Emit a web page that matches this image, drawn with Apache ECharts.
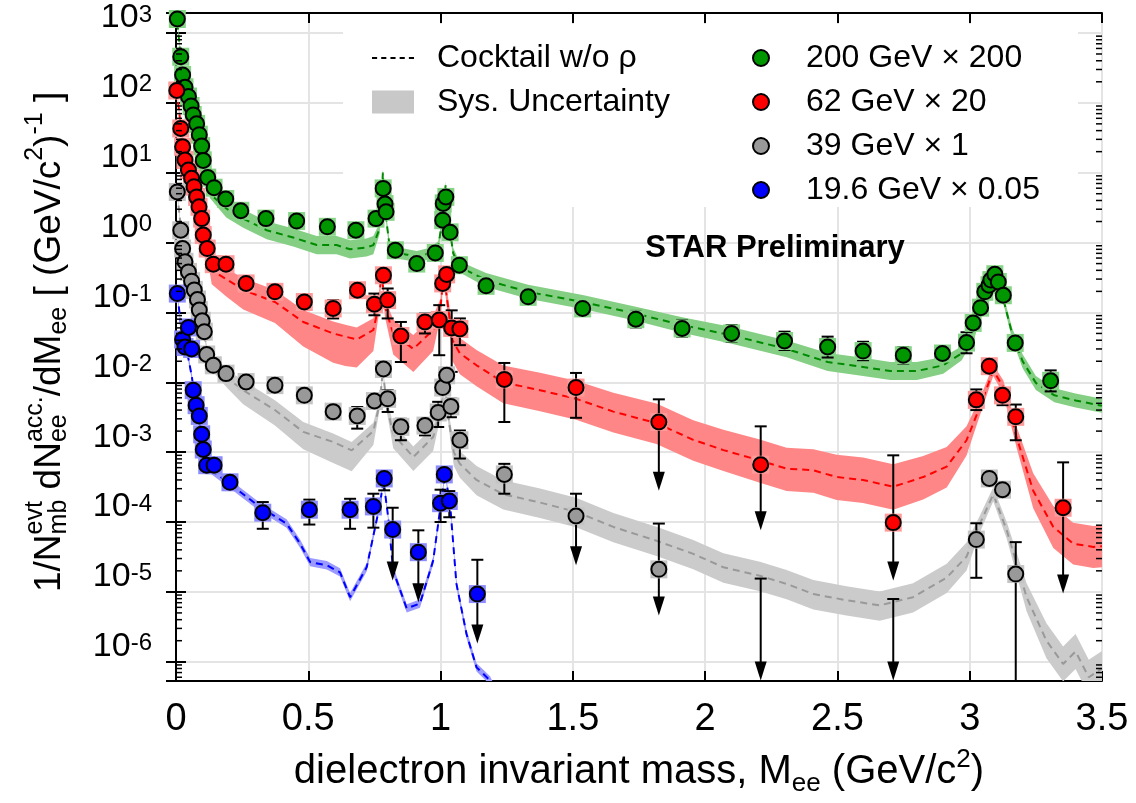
<!DOCTYPE html>
<html>
<head>
<meta charset="utf-8">
<title>Dielectron mass spectra</title>
<script src="https://cdn.jsdelivr.net/npm/echarts@6/dist/echarts.min.js"></script>
<style>
  html, body { margin: 0; padding: 0; background: #fff; }
  #main { width: 1136px; height: 803px; }
</style>
</head>
<body>
<div id="main"></div>
<script>
const FONT = '"Liberation Sans", Arial, Helvetica, sans-serif';

// axis range
const yMin = 5.3e-7, yMax = 1930;
const yDecades = [-6, -5, -4, -3, -2, -1, 0, 1, 2, 3];

const seriesNames = ['200 GeV × 200', '62 GeV × 20', '39 GeV × 1', '19.6 GeV × 0.05'];

// ---------- 200 GeV x 200 ----------
const mass200 = [0.005, 0.018, 0.025, 0.034, 0.047, 0.057, 0.065, 0.078, 0.088, 0.097, 0.103, 0.12, 0.144, 0.188, 0.245, 0.34, 0.456, 0.572, 0.68, 0.756, 0.783, 0.79, 0.794, 0.829, 0.91, 0.98, 1.008, 1.01, 1.02, 1.036, 1.071, 1.172, 1.331, 1.537, 1.738, 1.913, 2.10, 2.30, 2.463, 2.597, 2.749, 2.897, 2.988, 3.013, 3.041, 3.057, 3.073, 3.08, 3.095, 3.108, 3.127, 3.172, 3.306];
const val200 = [1585, 457, 250, 167, 123, 90, 67, 50, 35, 24, 15, 8.5, 6.1, 4.2, 2.85, 2.2, 2.03, 1.68, 1.5, 2.2, 5.96, 3.55, 2.75, 0.776, 0.50, 0.71, 2.09, 3.63, 4.5, 1.4, 0.474, 0.24, 0.167, 0.114, 0.080, 0.059, 0.050, 0.039, 0.032, 0.028, 0.0244, 0.0258, 0.037, 0.0708, 0.117, 0.197, 0.245, 0.29, 0.352, 0.273, 0.176, 0.0366, 0.0105];
const barMass200 = [1.172, 1.331, 1.537, 1.738, 1.913, 2.10, 2.30, 2.463, 2.597, 2.749, 2.897, 2.988, 3.306];
const barLo200 = [0.19, 0.133, 0.091, 0.061, 0.045, 0.038, 0.029, 0.0226, 0.0207, 0.0185, 0.0205, 0.026, 0.0074];
const barHi200 = [0.30, 0.21, 0.143, 0.105, 0.078, 0.066, 0.053, 0.045, 0.038, 0.032, 0.0325, 0.052, 0.0148];
const cockMass200 = [0.005, 0.02, 0.04, 0.06, 0.08, 0.1, 0.128, 0.19, 0.254, 0.343, 0.443, 0.532, 0.607, 0.658, 0.72, 0.746, 0.77, 0.782, 0.79, 0.809, 0.847, 0.91, 0.96, 0.991, 1.01, 1.019, 1.03, 1.048, 1.071, 1.172, 1.331, 1.537, 1.738, 1.913, 2.10, 2.308, 2.463, 2.597, 2.70, 2.80, 2.90, 2.97, 3.02, 3.06, 3.09, 3.10, 3.13, 3.16, 3.20, 3.25, 3.32, 3.40, 3.5];
const cock200 = [1400, 380, 140, 70, 40, 18, 5.0, 3.07, 2.2, 1.5, 1.18, 0.92, 0.92, 0.8, 0.85, 0.92, 1.6, 10, 3.0, 0.78, 0.70, 0.63, 0.70, 0.87, 2.5, 6.6, 2.0, 0.70, 0.45, 0.29, 0.197, 0.141, 0.096, 0.066, 0.047, 0.030, 0.0195, 0.0166, 0.0145, 0.0145, 0.0175, 0.026, 0.055, 0.17, 0.32, 0.33, 0.14, 0.05, 0.02, 0.0098, 0.0065, 0.0055, 0.0046];
// band half widths in decades
const bandUp200 = [0.04, 0.04, 0.04, 0.04, 0.04, 0.04, 0.06, 0.13, 0.13, 0.13, 0.13, 0.13, 0.13, 0.13, 0.13, 0.13, 0.08, 0.05, 0.06, 0.08, 0.08, 0.08, 0.08, 0.08, 0.06, 0.05, 0.06, 0.08, 0.08, 0.1, 0.1, 0.1, 0.1, 0.11, 0.12, 0.12, 0.13, 0.13, 0.13, 0.13, 0.12, 0.1, 0.08, 0.06, 0.05, 0.05, 0.06, 0.08, 0.1, 0.1, 0.1, 0.1, 0.1];
const bandDn200 = bandUp200;

// ---------- 62 GeV x 20 ----------
const mass62 = [0.003, 0.018, 0.025, 0.034, 0.047, 0.059, 0.068, 0.078, 0.087, 0.097, 0.103, 0.118, 0.141, 0.189, 0.265, 0.374, 0.485, 0.594, 0.686, 0.75, 0.784, 0.80, 0.85, 0.941, 0.995, 1.008, 1.023, 1.042, 1.073, 1.241, 1.512, 3.025, 3.074, 3.124, 3.174];
const val62 = [150, 43, 23.5, 15.2, 10.9, 8.3, 6.3, 4.5, 3.25, 2.2, 1.28, 0.82, 0.49, 0.49, 0.26, 0.197, 0.141, 0.114, 0.208, 0.131, 0.34, 0.15, 0.046, 0.073, 0.078, 0.26, 0.35, 0.06, 0.058, 0.011, 0.0084, 0.0056, 0.017, 0.0065, 0.0032];
const barMass62 = [0.485, 0.594, 0.75, 0.80, 0.85, 0.941, 0.995, 1.042, 1.073, 1.241, 1.512, 3.025, 3.124, 3.174];
const barLo62 = [0.114, 0.082, 0.091, 0.082, 0.0195, 0.050, 0.0244, 0.0141, 0.034, 0.0027, 0.0031, 0.0040, 0.0047, 0.00148];
const barHi62 = [0.167, 0.150, 0.186, 0.22, 0.073, 0.096, 0.127, 0.107, 0.082, 0.0189, 0.0136, 0.0079, 0.0079, 0.0048];
const limMass62 = [1.825, 2.21, 2.711, 3.353];
const limVal62 = [0.0027, 0.00066, 9.8e-5, 1.6e-4];
const limTop62 = [0.0057, 0.00234, 0.0009, 0.000714];
const limTip62 = [2.8e-4, 7.6e-5, 1.46e-5, 9.5e-6];
const cockMass62 = [0.003, 0.02, 0.04, 0.06, 0.08, 0.1, 0.12, 0.135, 0.19, 0.254, 0.374, 0.481, 0.594, 0.64, 0.683, 0.746, 0.765, 0.777, 0.79, 0.821, 0.897, 0.972, 1.0, 1.012, 1.025, 1.045, 1.073, 1.136, 1.237, 1.376, 1.512, 1.653, 1.816, 1.955, 2.069, 2.207, 2.308, 2.409, 2.497, 2.597, 2.711, 2.824, 2.913, 2.988, 3.039, 3.089, 3.127, 3.177, 3.24, 3.316, 3.391, 3.467, 3.5];
const cock62 = [150, 40, 13, 8, 4.2, 1.6, 0.7, 0.40, 0.30, 0.21, 0.141, 0.073, 0.050, 0.045, 0.041, 0.056, 0.12, 0.38, 0.12, 0.05, 0.030, 0.056, 0.12, 0.36, 0.15, 0.04, 0.026, 0.0175, 0.010, 0.0077, 0.0058, 0.0038, 0.0026, 0.0015, 0.00107, 0.00076, 0.00058, 0.00055, 0.00044, 0.00040, 0.00032, 0.00044, 0.00062, 0.00148, 0.0045, 0.0148, 0.0085, 0.00165, 0.00028, 8.5e-5, 4.9e-5, 4.4e-5, 4.5e-5];
const bandUp62 = [0.05, 0.05, 0.05, 0.05, 0.05, 0.05, 0.08, 0.12, 0.15, 0.17, 0.17, 0.17, 0.17, 0.17, 0.17, 0.17, 0.12, 0.08, 0.12, 0.2, 0.2, 0.2, 0.12, 0.08, 0.12, 0.2, 0.22, 0.22, 0.24, 0.25, 0.26, 0.27, 0.28, 0.28, 0.29, 0.3, 0.3, 0.3, 0.32, 0.32, 0.32, 0.3, 0.28, 0.2, 0.12, 0.08, 0.1, 0.15, 0.25, 0.3, 0.3, 0.3, 0.3];
const bandDn62 = [0.05, 0.05, 0.05, 0.05, 0.05, 0.05, 0.1, 0.2, 0.25, 0.28, 0.3, 0.35, 0.42, 0.42, 0.4, 0.3, 0.15, 0.08, 0.15, 0.3, 0.33, 0.3, 0.15, 0.08, 0.15, 0.3, 0.3, 0.3, 0.3, 0.3, 0.3, 0.3, 0.3, 0.3, 0.3, 0.32, 0.32, 0.32, 0.33, 0.33, 0.33, 0.32, 0.3, 0.22, 0.12, 0.08, 0.1, 0.15, 0.25, 0.3, 0.3, 0.3, 0.3];

// ---------- 39 GeV x 1 ----------
const mass39 = [0.005, 0.018, 0.025, 0.034, 0.047, 0.059, 0.069, 0.081, 0.088, 0.099, 0.107, 0.116, 0.141, 0.189, 0.265, 0.374, 0.485, 0.594, 0.685, 0.75, 0.784, 0.80, 0.85, 0.941, 0.991, 1.008, 1.023, 1.039, 1.073, 1.241, 3.025, 3.074, 3.124, 3.174];
const val39 = [5.3, 1.5, 0.82, 0.53, 0.38, 0.28, 0.21, 0.153, 0.108, 0.076, 0.053, 0.025, 0.0175, 0.0133, 0.0101, 0.0091, 0.0065, 0.0038, 0.0033, 0.0054, 0.0155, 0.0058, 0.0023, 0.0024, 0.0037, 0.0084, 0.0126, 0.0045, 0.00148, 0.00048, 5.6e-5, 4.2e-4, 2.9e-4, 1.8e-5];
const barMass39 = [0.594, 0.685, 0.80, 0.85, 0.941, 0.991, 1.039, 1.073, 1.241, 3.025, 3.174];
const barLo39 = [0.0030, 0.00217, 0.00376, 0.00148, 0.00174, 0.00229, 0.00316, 0.00081, 0.000254, 1.59e-5, 1e-9];
const barHi39 = [0.00468, 0.00443, 0.00767, 0.0030, 0.00286, 0.00525, 0.00583, 0.00204, 0.00068, 9.6e-5, 5.15e-5];
const limMass39 = [1.512, 1.825, 2.21, 2.711];
const limVal39 = [1.22e-4, 2.1e-5, null, null];
const limTop39 = [2.54e-4, 9.5e-5, 1.55e-5, 7.9e-6];
const limTip39 = [2.4e-5, 4.6e-6, 5.4e-7, 5.4e-7];
const cockMass39 = [0.005, 0.02, 0.04, 0.06, 0.08, 0.1, 0.12, 0.15, 0.2, 0.254, 0.374, 0.481, 0.594, 0.664, 0.746, 0.77, 0.782, 0.795, 0.821, 0.897, 0.972, 1.0, 1.017, 1.03, 1.05, 1.073, 1.136, 1.237, 1.376, 1.512, 1.653, 1.816, 1.955, 2.069, 2.207, 2.308, 2.409, 2.534, 2.66, 2.786, 2.913, 2.988, 3.039, 3.089, 3.14, 3.215, 3.29, 3.353, 3.4, 3.45, 3.5];
const cock39 = [5, 1.4, 0.45, 0.27, 0.15, 0.07, 0.025, 0.016, 0.011, 0.0077, 0.004, 0.00195, 0.0014, 0.00106, 0.002, 0.005, 0.015, 0.005, 0.0018, 0.00085, 0.00165, 0.004, 0.009, 0.003, 0.001, 0.00068, 0.0004, 2.5e-4, 1.9e-4, 1.4e-4, 8.5e-5, 5.4e-5, 3.5e-5, 2.25e-5, 1.7e-5, 1.3e-5, 9.3e-6, 7.6e-6, 6.4e-6, 8.4e-6, 1.6e-5, 3.2e-5, 9.5e-5, 2.5e-4, 7.6e-5, 8.4e-6, 2e-6, 9.3e-7, 1.4e-6, 6e-7, 8e-7];
const bandUp39 = [0.05, 0.05, 0.05, 0.05, 0.05, 0.05, 0.06, 0.1, 0.12, 0.14, 0.14, 0.14, 0.12, 0.12, 0.12, 0.08, 0.06, 0.08, 0.15, 0.15, 0.15, 0.1, 0.06, 0.1, 0.15, 0.18, 0.2, 0.2, 0.2, 0.2, 0.2, 0.2, 0.2, 0.2, 0.2, 0.2, 0.2, 0.2, 0.2, 0.2, 0.2, 0.2, 0.12, 0.1, 0.12, 0.2, 0.25, 0.25, 0.25, 0.25, 0.25];
const bandDn39 = [0.05, 0.05, 0.05, 0.05, 0.05, 0.05, 0.06, 0.1, 0.15, 0.2, 0.22, 0.25, 0.3, 0.3, 0.2, 0.08, 0.06, 0.08, 0.2, 0.2, 0.2, 0.1, 0.06, 0.1, 0.2, 0.2, 0.22, 0.22, 0.22, 0.22, 0.22, 0.22, 0.22, 0.22, 0.22, 0.22, 0.22, 0.22, 0.22, 0.22, 0.22, 0.2, 0.12, 0.1, 0.12, 0.2, 0.25, 0.25, 0.25, 0.25, 0.25];

// ---------- 19.6 GeV x 0.05 ----------
const mass19 = [0.005, 0.025, 0.034, 0.047, 0.059, 0.065, 0.076, 0.088, 0.097, 0.103, 0.116, 0.144, 0.204, 0.328, 0.504, 0.658, 0.746, 0.787, 1.00, 1.014, 1.033];
const val19 = [0.186, 0.041, 0.032, 0.061, 0.030, 0.0077, 0.0047, 0.0033, 0.0018, 0.00109, 0.00065, 0.00065, 0.00037, 1.36e-4, 1.5e-4, 1.5e-4, 1.67e-4, 4.2e-4, 1.86e-4, 4.8e-4, 2.0e-4];
const barMass19 = [0.328, 0.504, 0.658, 0.746, 0.787, 1.00, 1.033];
const barLo19 = [8.0e-5, 9.2e-5, 8.0e-5, 8.3e-5, 2.84e-4, 1.0e-4, 1.17e-4];
const barHi19 = [1.93e-4, 2.09e-4, 2.15e-4, 2.54e-4, 5.37e-4, 2.9e-4, 2.77e-4];
const limMass19 = [0.819, 0.916, 1.139];
const limVal19 = [7.8e-5, 3.7e-5, 9.3e-6];
const limTop19 = [1.6e-4, 7.6e-5, 2.88e-5];
const limTip19 = [1.46e-5, 7.1e-6, 1.82e-6];
const cockMass19 = [0.005, 0.02, 0.04, 0.06, 0.07, 0.08, 0.09, 0.1, 0.116, 0.204, 0.317, 0.418, 0.469, 0.507, 0.57, 0.62, 0.658, 0.721, 0.771, 0.784, 0.802, 0.821, 0.872, 0.922, 0.972, 0.998, 1.017, 1.036, 1.06, 1.098, 1.136, 1.187, 1.22];
const cock19 = [0.18, 0.06, 0.03, 0.012, 0.006, 0.004, 0.0025, 0.0012, 6.2e-4, 3.5e-4, 1.64e-4, 9.5e-5, 4.9e-5, 2.67e-5, 2.4e-5, 1.9e-5, 8.4e-6, 2.26e-5, 1.8e-4, 4e-4, 1.17e-4, 2.0e-5, 5.8e-6, 6.8e-6, 2.8e-5, 1.48e-4, 4.9e-4, 1.8e-4, 1.3e-5, 2.5e-6, 8.3e-7, 5.4e-7, 3e-7];
const bandUp19 = [0.05, 0.05, 0.05, 0.05, 0.05, 0.05, 0.05, 0.05, 0.06, 0.06, 0.06, 0.06, 0.06, 0.06, 0.06, 0.06, 0.06, 0.06, 0.05, 0.04, 0.05, 0.06, 0.06, 0.06, 0.06, 0.05, 0.04, 0.05, 0.06, 0.06, 0.06, 0.06, 0.06];
const bandDn19 = bandUp19;

const sets = [
  { name: seriesNames[0], color: '#009600', halo: '#86d486', line: '#008a00', band: '#84cf84',
    mass: mass200, val: val200, bm: barMass200, bl: barLo200, bh: barHi200, lm: [], lv: [], lt: [], lp: [],
    cm: cockMass200, cv: cock200, cu: bandUp200, cd: bandDn200 },
  { name: seriesNames[1], color: '#ff0000', halo: '#ff9a9a', line: '#ff0000', band: '#ff8686',
    mass: mass62, val: val62, bm: barMass62, bl: barLo62, bh: barHi62, lm: limMass62, lv: limVal62, lt: limTop62, lp: limTip62,
    cm: cockMass62, cv: cock62, cu: bandUp62, cd: bandDn62 },
  { name: seriesNames[2], color: '#999999', halo: '#c4c4c4', line: '#999999', band: '#cbcbcb',
    mass: mass39, val: val39, bm: barMass39, bl: barLo39, bh: barHi39, lm: limMass39, lv: limVal39, lt: limTop39, lp: limTip39,
    cm: cockMass39, cv: cock39, cu: bandUp39, cd: bandDn39 },
  { name: seriesNames[3], color: '#0000ff', halo: '#8c8cff', line: '#0000ff', band: '#9a9aff',
    mass: mass19, val: val19, bm: barMass19, bl: barLo19, bh: barHi19, lm: limMass19, lv: limVal19, lt: limTop19, lp: limTip19,
    cm: cockMass19, cv: cock19, cu: bandUp19, cd: bandDn19 }
];

function clipOf(params) {
  const cs = params.coordSys;
  return { type: 'rect', shape: { x: cs.x, y: cs.y, width: cs.width, height: cs.height } };
}

const series = [];

sets.forEach(function (s) {
  // systematic band of the cocktail
  const bandRows = s.cm.map((m, i) => [m, s.cv[i] / Math.pow(10, s.cd[i]), s.cv[i] * Math.pow(10, s.cu[i])]);
  series.push({
    type: 'custom', z: 2, silent: true, clip: true,
    data: bandRows, encode: { x: 0, y: [1, 2] },
    renderItem: function (params, api) {
      if (params.dataIndex !== 0) return null;
      const up = bandRows.map(r => api.coord([r[0], r[2]]));
      const dn = bandRows.map(r => api.coord([r[0], r[1]])).reverse();
      return { type: 'polygon', shape: { points: up.concat(dn) }, style: { fill: s.band }, clipPath: clipOf(params) };
    }
  });
  // cocktail w/o rho
  series.push({
    type: 'line', z: 3, silent: true, symbol: 'none',
    data: s.cm.map((m, i) => [m, s.cv[i]]),
    lineStyle: { color: s.line, width: 2, type: [7, 5] }
  });
});

sets.forEach(function (s) {
  // statistical error bars
  series.push({
    type: 'custom', z: 4, silent: true, clip: true,
    data: s.bm.map((m, i) => [m, s.bl[i], s.bh[i]]), encode: { x: 0, y: [1, 2] },
    renderItem: function (params, api) {
      const lo = api.coord([api.value(0), api.value(1)]);
      const hi = api.coord([api.value(0), api.value(2)]);
      const st = { stroke: '#000', lineWidth: 2 };
      return { type: 'group', clipPath: clipOf(params), children: [
        { type: 'line', shape: { x1: lo[0], y1: lo[1], x2: hi[0], y2: hi[1] }, style: st },
        { type: 'line', shape: { x1: hi[0] - 6, y1: hi[1], x2: hi[0] + 6, y2: hi[1] }, style: st },
        { type: 'line', shape: { x1: lo[0] - 6, y1: lo[1], x2: lo[0] + 6, y2: lo[1] }, style: st }
      ] };
    }
  });
  // upper limits
  if (s.lm.length) {
    series.push({
      type: 'custom', z: 4, silent: true, clip: true,
      data: s.lm.map((m, i) => [m, s.lt[i], s.lp[i]]), encode: { x: 0, y: [1, 2] },
      renderItem: function (params, api) {
        const top = api.coord([api.value(0), api.value(1)]);
        const tip = api.coord([api.value(0), api.value(2)]);
        const st = { stroke: '#000', lineWidth: 2 };
        return { type: 'group', clipPath: clipOf(params), children: [
          { type: 'line', shape: { x1: top[0], y1: top[1], x2: tip[0], y2: tip[1] - 6 }, style: st },
          { type: 'line', shape: { x1: top[0] - 6, y1: top[1], x2: top[0] + 6, y2: top[1] }, style: st },
          { type: 'polygon', shape: { points: [[tip[0] - 6, tip[1] - 19], [tip[0] + 6, tip[1] - 19], [tip[0], tip[1]]] }, style: { fill: '#000' } }
        ] };
      }
    });
  }
  const pts = s.mass.map((m, i) => [m, s.val[i]]);
  s.lm.forEach((m, i) => { if (s.lv[i] != null) pts.push([m, s.lv[i]]); });
  // systematic boxes of the data
  series.push({
    type: 'scatter', z: 5, silent: true, clip: false, symbol: 'rect', symbolSize: [17, 18],
    data: pts, itemStyle: { color: s.halo, opacity: 1 }
  });
  series.push({
    type: 'scatter', name: s.name, z: 6, silent: true, clip: false, symbol: 'circle', symbolSize: 15,
    data: pts, itemStyle: { color: s.color, borderColor: '#000', borderWidth: 2, opacity: 1 }
  });
});

// legend-only entries
series.push({ type: 'line', name: 'Cocktail w/o ρ', data: [], symbol: 'none', itemStyle: { color: '#000' }, lineStyle: { color: '#000', width: 2, type: [7, 5] } });
series.push({ type: 'custom', name: 'Sys. Uncertainty', data: [], renderItem: () => null, itemStyle: { color: '#c8c8c8' } });

// minor ticks of the log axis (2..9 x 10^n), both sides
const minorTicks = [];
for (let e = -7; e <= 3; e++) {
  for (let d = 2; d <= 9; d++) {
    const v = d * Math.pow(10, e);
    if (v > yMin && v < yMax) minorTicks.push(v);
  }
}
series.push({
  type: 'custom', z: 7, silent: true,
  data: minorTicks.map(v => [0, v]), encode: { x: 0, y: 1 },
  renderItem: function (params, api) {
    const cs = params.coordSys;
    const y = api.coord([0, api.value(1)])[1];
    const st = { stroke: '#000', lineWidth: 1.5 };
    return { type: 'group', children: [
      { type: 'line', shape: { x1: cs.x, y1: y, x2: cs.x + 6, y2: y }, style: st },
      { type: 'line', shape: { x1: cs.x + cs.width - 6, y1: y, x2: cs.x + cs.width, y2: y }, style: st }
    ] };
  }
});

// rotated y title with stacked sub/superscripts
const mctx = document.createElement('canvas').getContext('2d');
function textW(t, size) { mctx.font = size + 'px ' + FONT; return mctx.measureText(t).width; }
const yTitleParts = [
  ['1/N', 'm'], ['evt', 'sup', 1], ['mb', 'sub'], [' dN', 'm'], ['acc.', 'sup', 1], ['ee', 'sub'],
  ['/dM', 'm'], ['ee', 'sub'], [' [ (GeV/c', 'm'], ['2', 'sup'], [')', 'm'], ['-1', 'sup'], [' ]', 'm']
];
const partSize = { m: 37, sup: 25, sub: 25 };
const partDy = { m: 0, sup: -15, sub: 9 };
const yTitleChildren = [];
let cx = 0, stackW = 0;
yTitleParts.forEach(function (p) {
  const size = partSize[p[1]];
  const w = textW(p[0], size);
  yTitleChildren.push({ type: 'text', x: cx, y: partDy[p[1]], style: { text: p[0], fontSize: size, fontFamily: FONT, fill: '#000', align: 'left', verticalAlign: 'middle' } });
  if (p[2]) { stackW = w; } else { cx += Math.max(w, stackW); stackW = 0; }
});

// dashed sample for the legend
const dashIcon = 'path://M0 0h5v2H0z M9 0h5v2H9z M18 0h5v2h-5z M27 0h5v2h-5z M36 0h5v2h-5z';

const option = {
  animation: false,
  backgroundColor: '#fff',
  grid: { left: 176, right: 34, top: 13, bottom: 122 },
  legend: [
    {
      left: 367, top: 37, orient: 'vertical', itemGap: 12, itemWidth: 42, itemHeight: 23,
      selectedMode: false,
      data: [{ name: 'Cocktail w/o ρ', icon: dashIcon }, { name: 'Sys. Uncertainty', icon: 'rect' }],
      textStyle: { fontSize: 32, lineHeight: 30, fontFamily: FONT, color: '#000', padding: [0, 0, 0, 18] }
    },
    {
      left: 747, top: 37, orient: 'vertical', itemGap: 12, itemWidth: 16, itemHeight: 16,
      selectedMode: false, icon: 'circle',
      data: seriesNames,
      itemStyle: { borderColor: '#000', borderWidth: 2 },
      textStyle: { fontSize: 32, lineHeight: 30, fontFamily: FONT, color: '#000', padding: [0, 0, 0, 32] }
    }
  ],
  xAxis: [
    {
      type: 'value', min: 0, max: 3.5, interval: 0.5, position: 'bottom',
      axisLine: { lineStyle: { color: '#000', width: 2 } },
      axisTick: { inside: true, length: 10, lineStyle: { color: '#000', width: 2 } },
      axisLabel: { fontSize: 38, color: '#000', fontFamily: FONT, margin: 20 },
      splitLine: { show: true, lineStyle: { color: '#e4e4e4', width: 2 } },
      name: 'dielectron invariant mass, M{sub|ee} (GeV/c{sup|2})',
      nameLocation: 'middle', nameGap: 66,
      nameTextStyle: {
        fontSize: 40, fontFamily: FONT, color: '#000', lineHeight: 50,
        rich: {
          sub: { fontSize: 26, fontFamily: FONT, color: '#000', verticalAlign: 'bottom', lineHeight: 26 },
          sup: { fontSize: 26, fontFamily: FONT, color: '#000', verticalAlign: 'top', lineHeight: 26 }
        }
      }
    },
    {
      type: 'value', min: 0, max: 3.5, interval: 0.5, position: 'top',
      axisLine: { lineStyle: { color: '#000', width: 2 } },
      axisTick: { inside: true, length: 10, lineStyle: { color: '#000', width: 2 } },
      axisLabel: { show: false }, splitLine: { show: false }
    }
  ],
  yAxis: [
    {
      type: 'log', logBase: 10, min: yMin, max: yMax, splitNumber: 10, position: 'left',
      axisLine: { lineStyle: { color: '#000', width: 2 } },
      axisTick: { inside: true, length: 10, lineStyle: { color: '#000', width: 2 } },
      splitLine: { show: true, lineStyle: { color: '#e4e4e4', width: 2 } },
      axisLabel: {
        margin: 24, color: '#000', verticalAlign: 'bottom',
        formatter: function (v) {
          const e = Math.round(Math.log10(v));
          if (Math.abs(Math.log10(v) - e) > 1e-6 || yDecades.indexOf(e) < 0) return '';
          return '{b|10}{s|' + e + '}';
        },
        rich: {
          b: { fontSize: 34, lineHeight: 30, fontFamily: FONT, color: '#000' },
          s: { fontSize: 24, lineHeight: 8, fontFamily: FONT, color: '#000', verticalAlign: 'top' }
        }
      }
    },
    {
      type: 'log', logBase: 10, min: yMin, max: yMax, splitNumber: 10, position: 'right',
      axisLine: { lineStyle: { color: '#000', width: 2 } },
      axisTick: { inside: true, length: 10, lineStyle: { color: '#000', width: 2 } },
      axisLabel: { show: false }, splitLine: { show: false }
    }
  ],
  graphic: [
    { type: 'rect', z: 1, silent: true, shape: { x: 343, y: 24, width: 735, height: 183 }, style: { fill: '#fff' } },
    { type: 'text', z: 10, silent: true, x: 775, y: 248,
      style: { text: 'STAR Preliminary', fontSize: 31, fontWeight: 'bold', fontFamily: FONT, fill: '#000', align: 'center', verticalAlign: 'middle' } },
    { type: 'group', x: 50, y: 592, rotation: Math.PI / 2, silent: true, children: yTitleChildren }
  ],
  series: series
};

const chart = echarts.init(document.getElementById('main'), null, { renderer: 'canvas' });
chart.setOption(option);
</script>
</body>
</html>
